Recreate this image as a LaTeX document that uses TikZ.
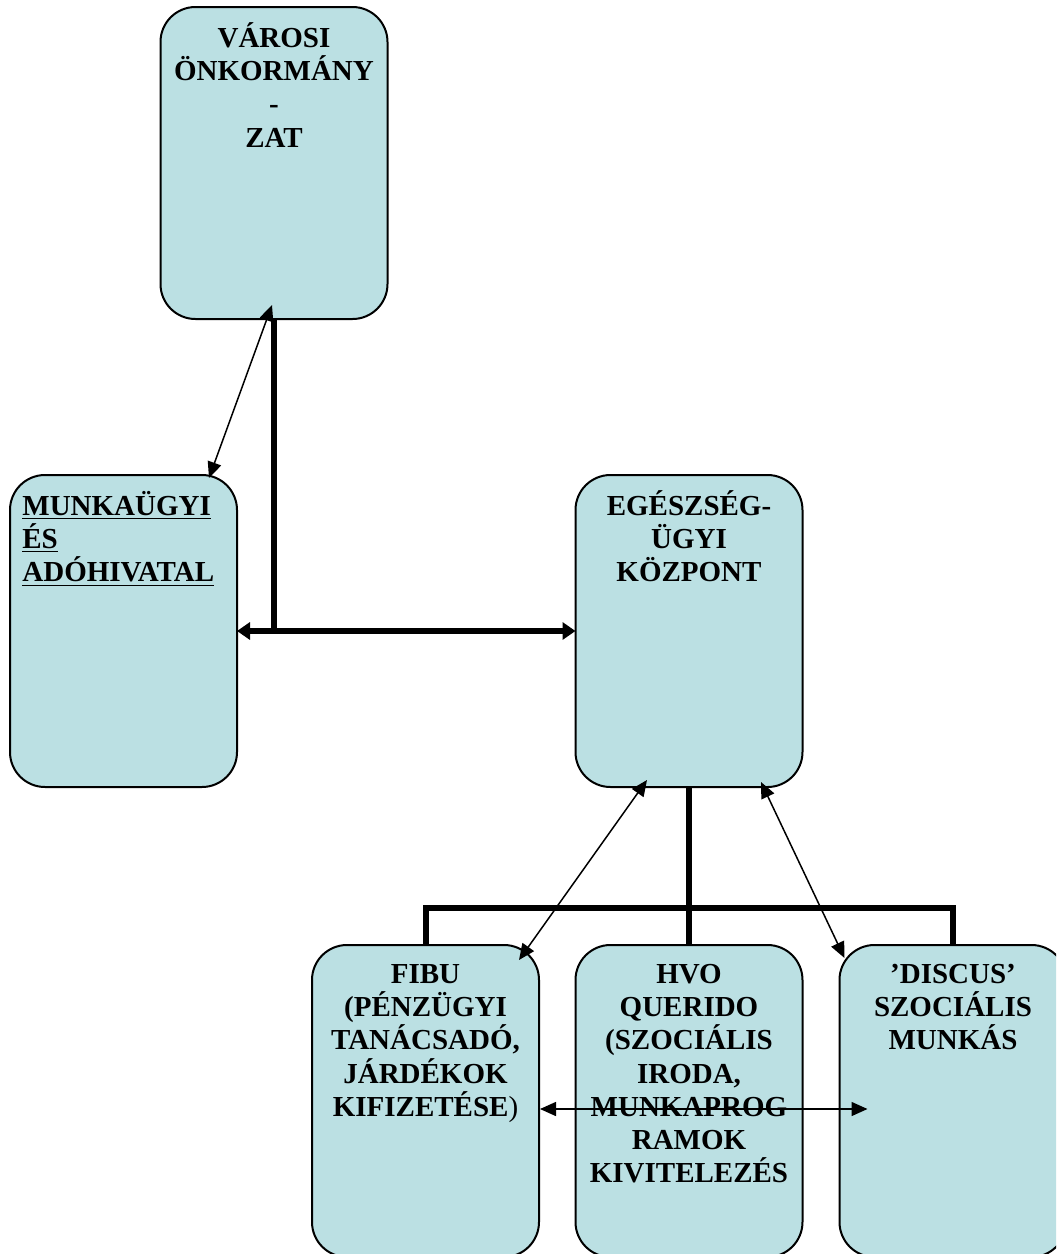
\documentclass[tikz,border=0pt]{standalone}
\usepackage{fontspec}
\setmainfont{Liberation Serif}
\usetikzlibrary{arrows.meta}
\definecolor{boxfill}{RGB}{187,224,227}
\newcommand{\ulbox}[1]{\underline{#1}}
\tikzset{
  box/.style={draw=black, line width=1pt, fill=boxfill, rounded corners=17.5pt,
    minimum width=113.5pt, minimum height=156pt, inner sep=0pt, outer sep=0pt},
  boxtext/.style={font=\fontsize{14.5}{16.6}\selectfont\bfseries, align=center,
    inner sep=0pt, anchor=north},
  bus/.style={line width=3pt},
  busarrow/.style={line width=3pt, {Triangle[length=6.5pt,width=8.5pt]}-{Triangle[length=6.5pt,width=8.5pt]}},
  thinarrow/.style={line width=0.75pt, {Triangle[length=8pt,width=7pt]}-{Triangle[length=8pt,width=7pt]}},
}
\begin{document}
\begin{tikzpicture}[x=0.5pt,y=-0.5pt]
\useasboundingbox (0,0) rectangle (1056,1254);
\clip (0,0) rectangle (1056,1254);
% boxes
\node[box] (top) at (274,163) {};
\node[box] (left) at (123.5,631) {};
\node[box] (eg) at (689,631) {};
\node[box] (fibu) at (425.5,1101) {};
\node[box] (hvo) at (689,1101) {};
\node[box] (discus) at (953,1101) {};
% texts
\node[boxtext] (topt) at ([yshift=-6pt]top.north) {\rule{0pt}{14pt}VÁROSI\\ÖNKORMÁNY\\-\\ZAT};
\node[boxtext, align=left, anchor=north west] (leftt) at ([shift={(12,12)}]left.north west)
  {\rule{0pt}{14pt}\ulbox{MUNKAÜGYI}\\\ulbox{ÉS}\\\ulbox{ADÓHIVATAL}};
\node[boxtext] (egt) at ([yshift=-6pt]eg.north) {\rule{0pt}{14pt}EGÉSZSÉG-\\ÜGYI\\KÖZPONT};
\node[boxtext] (fibut) at ([yshift=-5pt]fibu.north) {\rule{0pt}{14pt}FIBU\\(PÉNZÜGYI\\TANÁCSADÓ,\\JÁRDÉKOK\\KIFIZETÉSE\textmd{)}};
\node[boxtext] (hvot) at ([yshift=-5pt]hvo.north) {\rule{0pt}{14pt}HVO\\QUERIDO\\(SZOCIÁLIS\\IRODA,\\MUNKAPROG\\RAMOK\\KIVITELEZÉS};
\node[boxtext] (discust) at ([yshift=-5pt]discus.north) {\rule{0pt}{14pt}’DISCUS’\\SZOCIÁLIS\\MUNKÁS};
% thick connectors
\draw[bus] (top.south) -- (top.south |- left.east);
\draw[busarrow] (left.east) -- (eg.west);
\coordinate (busmid) at (689,908);
\draw[bus] (eg.south) -- (hvo.north);
\draw[bus] (fibu.north) -- (fibu.north |- busmid) -- (discus.north |- busmid) -- (discus.north);
% thin arrows
\draw[thinarrow] ([shift={(-2,-14)}]top.south) -- ([shift={(-28,3)}]left.north east);
\draw[thinarrow] ([shift={(-42,-7)}]eg.south) -- ([shift={(-20,15)}]fibu.north east);
\draw[thinarrow] ([shift={(72,-5)}]eg.south) -- ([shift={(5,13)}]discus.north west);
\draw[thinarrow] ([shift={(1,8)}]fibu.east) -- ([shift={(28,8)}]discus.west);
\end{tikzpicture}
\end{document}
